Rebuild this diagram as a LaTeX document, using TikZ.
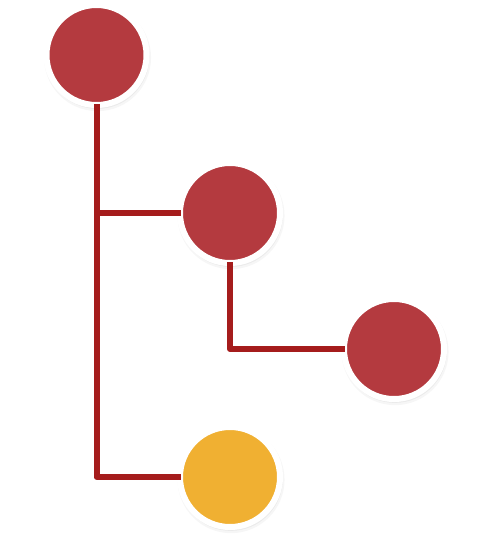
\documentclass[tikz,border=0pt]{standalone}
\usetikzlibrary{shadows}
\definecolor{dotred}{RGB}{180,58,63}
\definecolor{dotyellow}{RGB}{240,176,50}
\definecolor{linkred}{RGB}{165,28,28}
\tikzset{
  dot/.style={circle, inner sep=0pt, minimum size=100pt, draw=white, line width=6pt,
    fill=dotred,
    drop shadow={opacity=0.07, shadow xshift=1pt, shadow yshift=-2.5pt, shadow scale=1.07},
    drop shadow={opacity=0.10, shadow xshift=0.8pt, shadow yshift=-1.8pt, shadow scale=1.04},
    drop shadow={opacity=0.14, shadow xshift=0.5pt, shadow yshift=-1pt, shadow scale=1.015}},
  golddot/.style={dot, fill=dotyellow},
  link/.style={draw=linkred, line width=6pt, line cap=butt, line join=round, shorten <=-4pt, shorten >=-4pt}
}
\begin{document}
\begin{tikzpicture}[x=1pt,y=-1pt]
\useasboundingbox (0,0) rectangle (480,547);
\node[dot] (top) at (96.5,55) {};
\node[dot] (mid) at (230,213) {};
\node[dot] (right) at (394,349) {};
\node[golddot] (gold) at (230,477) {};
\draw[link] (top) |- (gold);
\draw[link] (top) |- (mid);
\draw[link] (mid) |- (right);
\end{tikzpicture}
\end{document}
